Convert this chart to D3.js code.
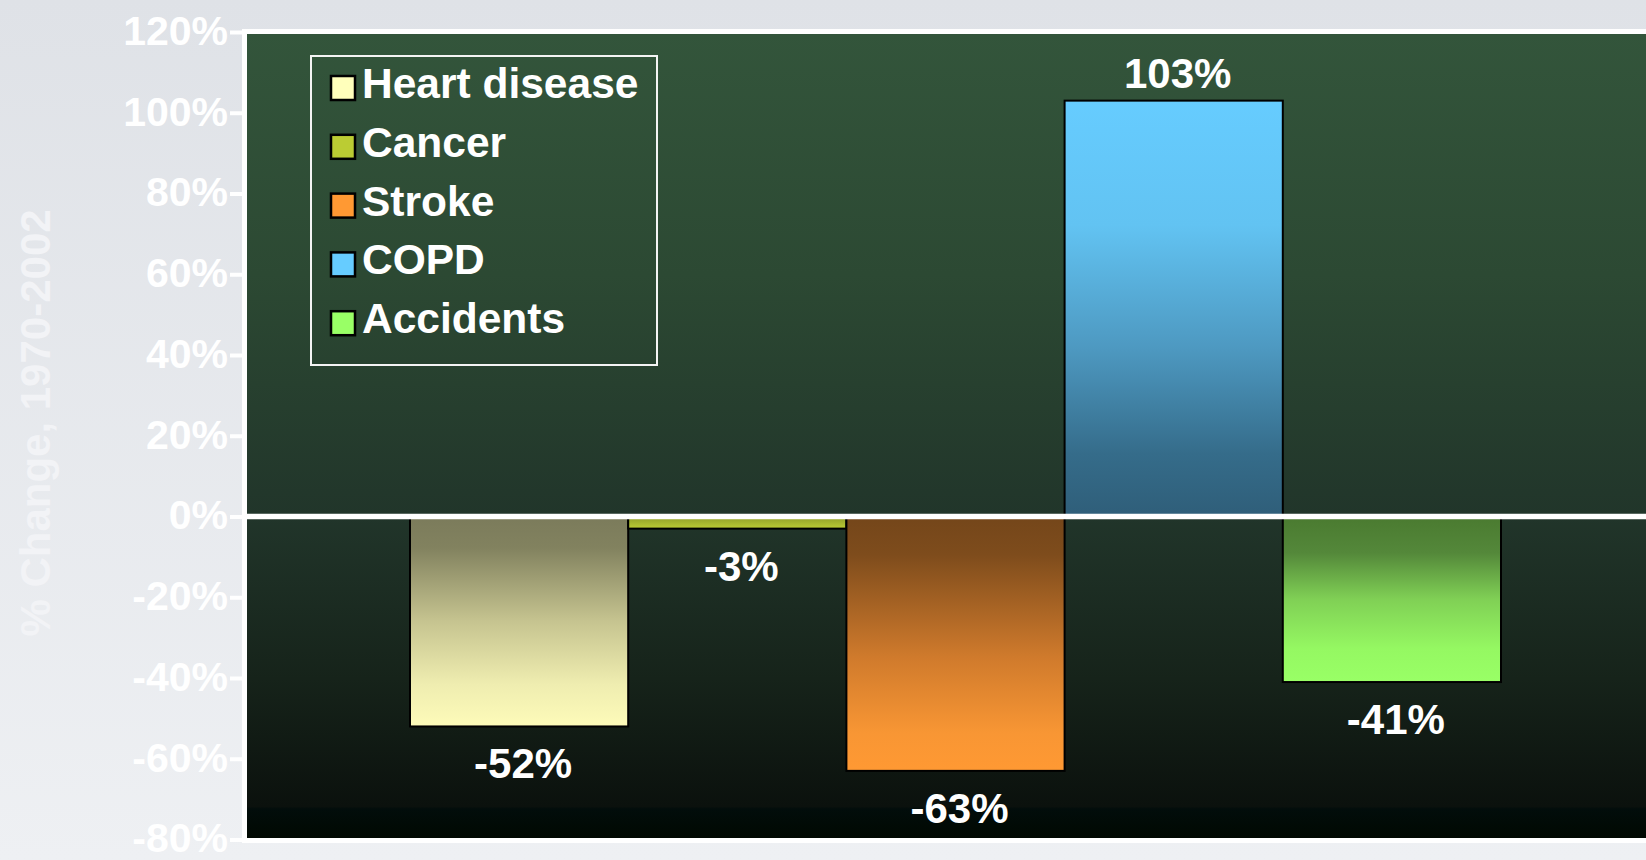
<!DOCTYPE html>
<html>
<head>
<meta charset="utf-8">
<script src="https://cdn.jsdelivr.net/npm/d3@7/dist/d3.min.js"></script>
<style>
  html, body { margin: 0; padding: 0; background: #e4e7eb; overflow: hidden; }
  svg { display: block; }
  text { font-family: "Liberation Sans", Arial, Helvetica, sans-serif; font-weight: bold; }
</style>
</head>
<body>
<svg id="chart" width="1646" height="860"></svg>
<script>
// ---- data ----
const categories = ["Heart disease", "Cancer", "Stroke", "COPD", "Accidents"];
const values = [-52, -3, -63, 103, -41];
const valueLabels = ["-52%", "-3%", "-63%", "103%", "-41%"];
const yTicks = [-80, -60, -40, -20, 0, 20, 40, 60, 80, 100, 120];
const yTickLabels = ["-80%", "-60%", "-40%", "-20%", "0%", "20%", "40%", "60%", "80%", "100%", "120%"];
const yTitle = "% Change, 1970-2002";

// ---- styles ----
const swatchColors = ["#ffffbb", "#bbcc33", "#ff9933", "#66ccff", "#99ff66"];
const barStops = [
  [[0, "#7b7b5b"], [0.15, "#82825f"], [0.5, "#c6c490"], [0.8, "#efedb0"], [1, "#fdfbb9"]],
  [[0, "#8e9c28"], [1, "#bccc35"]],
  [[0, "#74461a"], [0.15, "#7e4c1c"], [0.55, "#cf7a2c"], [0.85, "#f89634"], [1, "#ff9933"]],
  [[0, "#66ccff"], [0.3, "#62c3f2"], [0.6, "#4d98c0"], [0.85, "#356c8a"], [1, "#2f5e79"]],
  [[0, "#4a7a30"], [0.22, "#54883a"], [0.5, "#80d055"], [0.8, "#95f862"], [1, "#99ff66"]]
];

const W = 1646, H = 860;
const plot = { left: 244.5, top: 31.5, right: 1720, bottom: 840.5 };

const svg = d3.select("#chart");
const defs = svg.append("defs");

// page background
const bg = defs.append("linearGradient").attr("id", "pageBg").attr("x1", 0).attr("y1", 0).attr("x2", 0).attr("y2", 1);
bg.append("stop").attr("offset", 0).attr("stop-color", "#dfe2e7");
bg.append("stop").attr("offset", 1).attr("stop-color", "#eef0f3");
svg.append("rect").attr("width", W).attr("height", H).attr("fill", "url(#pageBg)");

// plot background gradient
const pg = defs.append("linearGradient").attr("id", "plotBg").attr("x1", 0).attr("y1", 0).attr("x2", 0).attr("y2", 1);
[[0, "#33553b"], [0.3, "#2c4933"], [0.6, "#21352a"], [0.8, "#16231a"], [0.958, "#0b110d"], [0.961, "#020d0b"], [1, "#000800"]]
  .forEach(s => pg.append("stop").attr("offset", s[0]).attr("stop-color", s[1]));

// bar gradients
values.forEach((v, i) => {
  const g = defs.append("linearGradient").attr("id", "barGrad" + i)
    .attr("x1", 0).attr("x2", 0)
    .attr("y1", v < 0 ? 0 : 1).attr("y2", v < 0 ? 1 : 0);
  const stops = v < 0 ? barStops[i] : barStops[i].map(s => [1 - s[0], s[1]]).reverse();
  stops.forEach(s => g.append("stop").attr("offset", s[0]).attr("stop-color", s[1]));
});

// scales
const x = d3.scaleBand().domain(categories).range([410, 1501]).padding(0);
const y = d3.scaleLinear().domain([-80, 120]).range([839.5, 32]);

// plot frame
svg.append("rect")
  .attr("x", plot.left).attr("y", plot.top)
  .attr("width", plot.right - plot.left).attr("height", plot.bottom - plot.top)
  .attr("fill", "url(#plotBg)")
  .attr("stroke", "#ffffff").attr("stroke-width", 5);

// y axis
const axis = d3.axisLeft(y)
  .tickValues(yTicks)
  .tickFormat(d => yTickLabels[yTicks.indexOf(d)])
  .tickSize(12).tickPadding(2);
const ag = svg.append("g").attr("transform", `translate(${plot.left - 2.5},0)`).call(axis);
ag.select(".domain").remove();
ag.selectAll(".tick line").attr("stroke", "#ffffff").attr("stroke-width", 4);
ag.selectAll(".tick text")
  .attr("fill", "#ffffff")
  .attr("font-size", 41)
  .attr("font-family", '"Liberation Sans", Arial, sans-serif')
  .attr("font-weight", "bold")
  .attr("dy", "0.3em");

// y title
svg.append("text")
  .attr("transform", `translate(50,${423}) rotate(-90)`)
  .attr("text-anchor", "middle")
  .attr("font-size", 42)
  .attr("fill", "#f2f3f6")
  .text(yTitle);

// bars
svg.selectAll("rect.bar").data(values).join("rect")
  .attr("class", "bar")
  .attr("x", (d, i) => x(categories[i]))
  .attr("width", x.bandwidth())
  .attr("y", d => y(Math.max(0, d)))
  .attr("height", d => Math.abs(y(d) - y(0)))
  .attr("fill", (d, i) => `url(#barGrad${i})`)
  .attr("stroke", "#000000").attr("stroke-width", 2);

// zero line
svg.append("line")
  .attr("x1", plot.left).attr("x2", plot.right)
  .attr("y1", y(0)).attr("y2", y(0))
  .attr("stroke", "#ffffff").attr("stroke-width", 5.5);

// value labels
svg.selectAll("text.vlabel").data(values).join("text")
  .attr("class", "vlabel")
  .attr("x", (d, i) => x(categories[i]) + x.bandwidth() / 2 + 4)
  .attr("y", d => d >= 0 ? y(d) - 13 : y(d) + 52)
  .attr("text-anchor", "middle")
  .attr("font-size", 42)
  .attr("fill", "#ffffff")
  .text((d, i) => valueLabels[i]);

// legend
const lg = svg.append("g");
lg.append("rect")
  .attr("x", 311).attr("y", 56).attr("width", 346).attr("height", 309)
  .attr("fill", "none").attr("stroke", "#f4f4f4").attr("stroke-width", 2);
const items = lg.selectAll("g.item").data(categories).join("g")
  .attr("class", "item")
  .attr("transform", (d, i) => `translate(0,${98 + i * 58.8})`);
items.append("rect")
  .attr("x", 331).attr("y", -22).attr("width", 24).attr("height", 24)
  .attr("fill", (d, i) => swatchColors[i])
  .attr("stroke", "#000000").attr("stroke-width", 2.5);
items.append("text")
  .attr("x", 362).attr("y", 0)
  .attr("font-size", 42.5)
  .attr("fill", "#ffffff")
  .text(d => d);
</script>
</body>
</html>
